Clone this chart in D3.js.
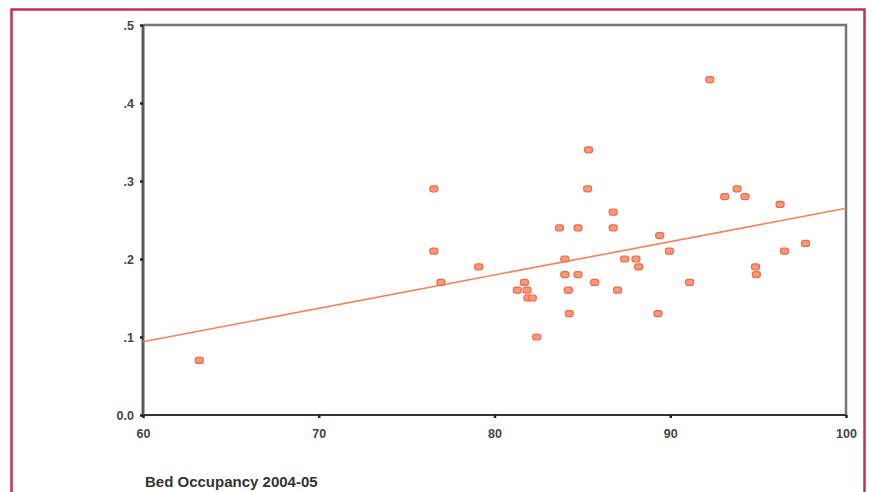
<!DOCTYPE html>
<html>
<head>
<meta charset="utf-8">
<script src="https://cdn.jsdelivr.net/npm/d3@7"></script>
<style>
  body { margin: 0; background: #fff; }
  svg { display: block; }
  .tick text { font-family: "Liberation Sans", Arial, sans-serif; font-weight: bold; fill: #444; }
</style>
</head>
<body>
<div id="chart"></div>
<script>
// bed occupancy (%) vs rate
var occupancy = [63.2, 76.55, 76.55, 76.95, 79.1, 81.3, 81.7, 81.85, 81.9, 82.15, 82.4,
  83.7, 84.0, 84.0, 84.2, 84.25, 84.75, 84.75, 85.3, 85.35, 85.7, 86.75, 86.75, 87.0,
  87.4, 88.05, 88.2, 89.4, 89.3, 89.95, 91.1, 92.25, 93.1, 93.8, 94.25, 94.85, 94.9,
  96.25, 96.5, 97.7];
var rate = [0.07, 0.29, 0.21, 0.17, 0.19, 0.16, 0.17, 0.16, 0.15, 0.15, 0.10,
  0.24, 0.20, 0.18, 0.16, 0.13, 0.24, 0.18, 0.29, 0.34, 0.17, 0.26, 0.24, 0.16,
  0.20, 0.20, 0.19, 0.23, 0.13, 0.21, 0.17, 0.43, 0.28, 0.29, 0.28, 0.19, 0.18,
  0.27, 0.21, 0.22];
// fit line ends as drawn
var fitX = [60, 100];
var fitY = [0.094, 0.265];
var xTicks = [60, 70, 80, 90, 100];
var yTicks = [0, 0.1, 0.2, 0.3, 0.4, 0.5];
var yTickLabels = ["0.0", ".1", ".2", ".3", ".4", ".5"];
var xTitle = "Bed Occupancy 2004-05";

(function() {
  var W = 873, H = 492;
  var plotL = 143, plotR = 846, plotT = 25, plotB = 415;

  var svg = d3.select("#chart").append("svg")
    .attr("width", W).attr("height", H);

  // red frame
  svg.append("rect")
    .attr("x", 11.5).attr("y", 9.5)
    .attr("width", 853).attr("height", 500)
    .attr("fill", "none")
    .attr("stroke", "#c3324f")
    .attr("stroke-width", 2.5);

  var x = d3.scaleLinear().domain([60, 100]).range([plotL, plotR]);
  var y = d3.scaleLinear().domain([0, 0.5]).range([plotB, plotT]);

  // plot box top and right edges
  svg.append("path")
    .attr("d", "M" + plotL + "," + plotT + "H" + plotR + "V" + plotB)
    .attr("fill", "none")
    .attr("stroke", "#777")
    .attr("stroke-width", 2.5);

  var xAxis = d3.axisBottom(x).tickValues(xTicks).tickSize(3).tickPadding(11)
    .tickFormat(d3.format("d"));
  var yAxis = d3.axisLeft(y).tickValues(yTicks).tickSize(3).tickPadding(6)
    .tickFormat(function(d, i) { return yTickLabels[i]; });

  var gx = svg.append("g")
    .attr("transform", "translate(0," + plotB + ")")
    .call(xAxis);
  gx.select(".domain").attr("stroke", "#333").attr("stroke-width", 2).attr("d", "M" + plotL + ",0H" + plotR);
  gx.selectAll(".tick line").attr("stroke", "#222").attr("stroke-width", 2.5);
  gx.selectAll(".tick text").style("font-size", "12.5px");

  var gy = svg.append("g")
    .attr("transform", "translate(" + plotL + ",0)")
    .call(yAxis);
  gy.select(".domain").attr("stroke", "#5a5a5a").attr("stroke-width", 3).attr("d", "M0," + plotB + "V" + plotT);
  gy.selectAll(".tick line").attr("stroke", "#222").attr("stroke-width", 2.5);
  gy.selectAll(".tick text").style("font-size", "12.5px");

  // fit line
  svg.append("line")
    .attr("x1", x(fitX[0])).attr("y1", y(fitY[0]))
    .attr("x2", x(fitX[1])).attr("y2", y(fitY[1]))
    .attr("stroke", "#f4825e")
    .attr("stroke-width", 1.6);

  // points
  svg.append("g").selectAll("rect")
    .data(occupancy)
    .enter().append("rect")
    .attr("x", function(d) { return x(d) - 4; })
    .attr("y", function(d, i) { return y(rate[i]) - 3; })
    .attr("width", 8).attr("height", 6)
    .attr("rx", 2.5)
    .attr("fill", "#f9997c")
    .attr("stroke", "#f26a48")
    .attr("stroke-width", 1.2);

  svg.append("text")
    .attr("x", 145).attr("y", 487)
    .attr("font-family", "'Liberation Sans', Arial, sans-serif")
    .attr("font-weight", "bold")
    .attr("font-size", "15px")
    .attr("fill", "#333")
    .text(xTitle);
})();
</script>
</body>
</html>
